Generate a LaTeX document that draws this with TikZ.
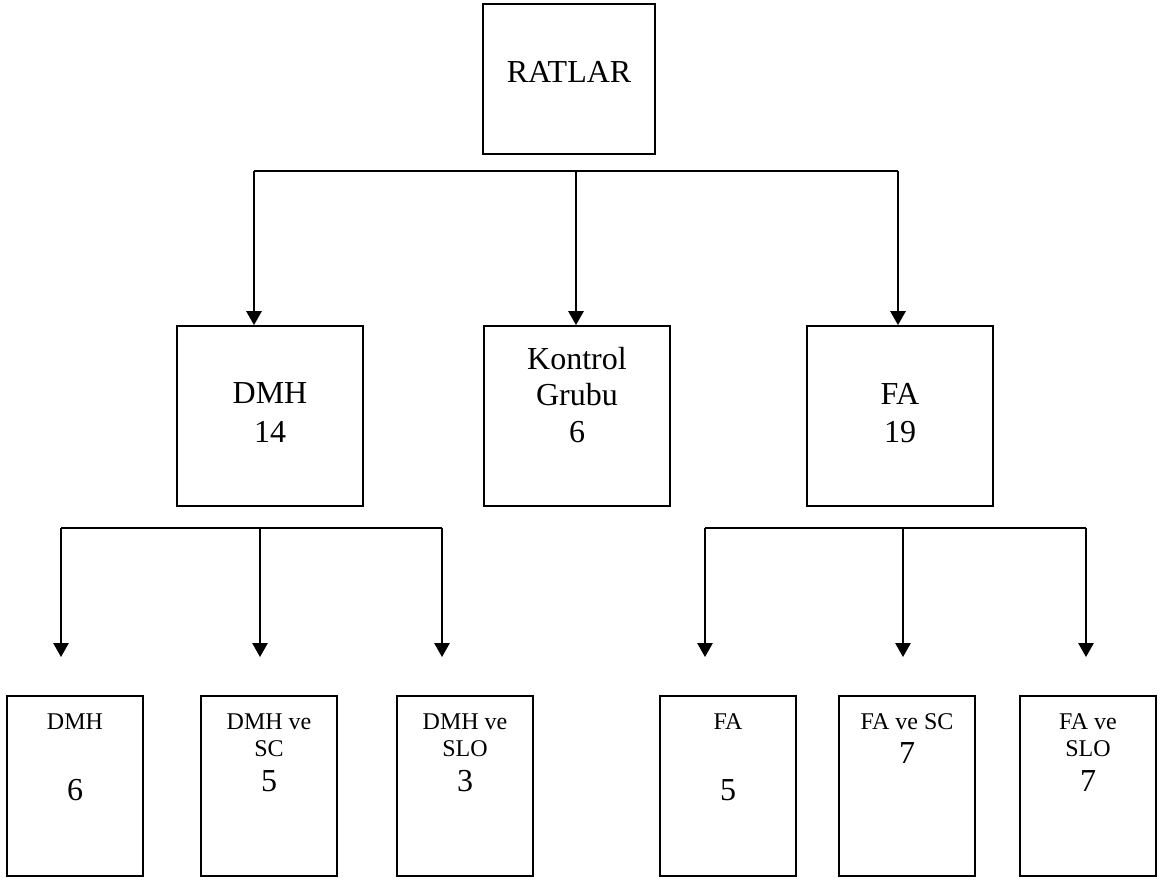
\documentclass[tikz,border=0pt]{standalone}
\usepackage{fontspec}
\setmainfont{Liberation Serif}
\usetikzlibrary{positioning, arrows.meta}

\begin{document}
\begin{tikzpicture}[
        ->,
        >={Triangle[length=10.5pt, width=11.5pt]},
        x=0.75pt,
        y=-0.75pt,
        line width=1.35pt,
        every node/.style={inner sep=0pt},
        big/.style={font=\fontsize{24}{29}\selectfont, align=center},
        small/.style={font=\fontsize{18}{20}\selectfont, align=center},
        topbox/.style={draw, minimum width=129pt, minimum height=112.5pt},
        midbox/.style={draw, minimum width=139.5pt, minimum height=135pt},
        lowbox/.style={draw, minimum width=102pt, minimum height=135pt}
    ]
    \useasboundingbox (0,0) rectangle (1160,880);

    % boxes
    \node[topbox] (rat) at (569,79) {};
    \node[midbox] (dmh) at (270,416) {};
    \node[midbox] (kon) at (577,416) {};
    \node[midbox] (fa) at (900,416) {};
    \node[lowbox] (dmh1) at (75,786) {};
    \node[lowbox] (dmh2) at (269,786) {};
    \node[lowbox] (dmh3) at (465,786) {};
    \node[lowbox] (fa1) at (728,786) {};
    \node[lowbox] (fa2) at (907,786) {};
    \node[lowbox] (fa3) at (1088,786) {};

    % texts
    \node[big, anchor=north] (rat-t) at (rat.center |- 0,60) {RATLAR};
    \node[big, anchor=north] (dmh-t) at (dmh.center |- 0,382) {DMH\\14};
    \node[big, anchor=north, font=\fontsize{24}{27.5}\selectfont] (kon-t) at (kon.center |- 0,346) {Kontrol\\Grubu\\6};
    \node[big, anchor=north] (fa-t) at (fa.center |- 0,382) {FA\\19};
    \node[small, anchor=north] (dmh1-t) at (dmh1.center |- 0,713) {DMH};
    \node[small, anchor=north] (dmh2-t) at (dmh2.center |- 0,713) {DMH ve\\SC};
    \node[small, anchor=north] (dmh3-t) at (dmh3.center |- 0,713) {DMH ve\\SLO};
    \node[small, anchor=north] (fa1-t) at (fa1.center |- 0,713) {FA};
    \node[small, anchor=north] (fa2-t) at (fa2.center |- 0,713) {FA ve SC};
    \node[small, anchor=north] (fa3-t) at (fa3.center |- 0,713) {FA ve\\SLO};
    \node[big, anchor=base] (dmh1-n) at (dmh1.center |- 0,800) {6};
    \node[big, anchor=base] (dmh2-n) at (dmh2.center |- 0,791) {5};
    \node[big, anchor=base] (dmh3-n) at (dmh3.center |- 0,791) {3};
    \node[big, anchor=base] (fa1-n) at (fa1.center |- 0,800) {5};
    \node[big, anchor=base] (fa2-n) at (fa2.center |- 0,763) {7};
    \node[big, anchor=base] (fa3-n) at (fa3.center |- 0,791) {7};

    % bus lines
    \coordinate (t1) at (254,171);
    \coordinate (t2) at (576,171);
    \coordinate (t3) at (898,171);
    \coordinate (l1) at (61,528);
    \coordinate (l2) at (260,528);
    \coordinate (l3) at (442,528);
    \coordinate (r1) at (705,528);
    \coordinate (r2) at (903,528);
    \coordinate (r3) at (1086,528);
    \coordinate (low) at (0,657);

    \draw[-] (t1) -- (t3);
    \draw[-] (l1) -- (l3);
    \draw[-] (r1) -- (r3);

    \draw (t1) -- (t1 |- dmh.north);
    \draw (t2) -- (t2 |- kon.north);
    \draw (t3) -- (t3 |- fa.north);
    \draw (l1) -- (l1 |- low);
    \draw (l2) -- (l2 |- low);
    \draw (l3) -- (l3 |- low);
    \draw (r1) -- (r1 |- low);
    \draw (r2) -- (r2 |- low);
    \draw (r3) -- (r3 |- low);
\end{tikzpicture}
\end{document}
